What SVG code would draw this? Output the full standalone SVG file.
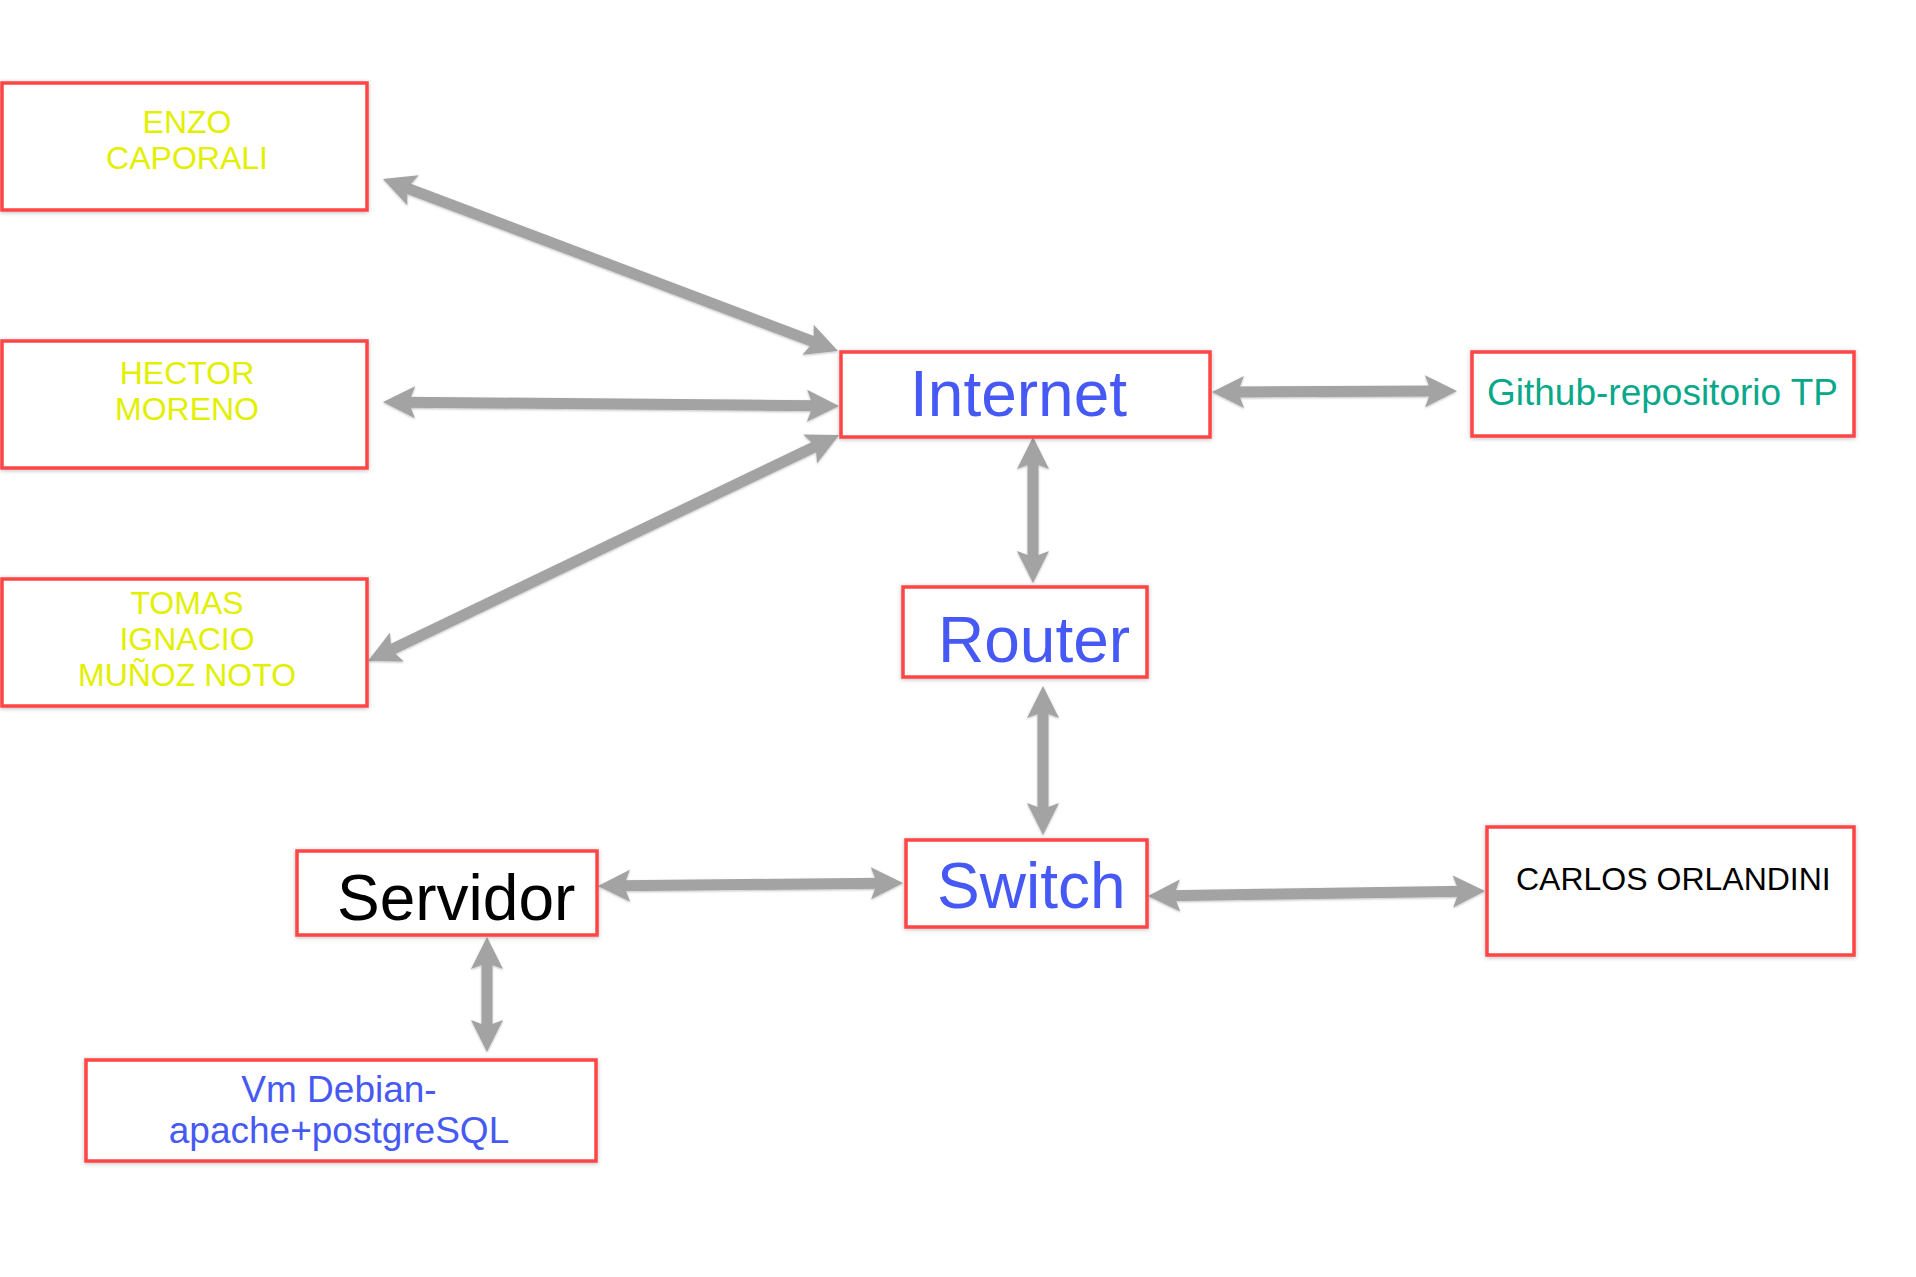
<svg xmlns="http://www.w3.org/2000/svg" width="1916" height="1277" viewBox="0 0 1916 1277">
<style>
.box{fill:#ffffff;stroke:#ff4444;stroke-width:3.5;filter:url(#sh)}
.t{font-family:"Liberation Sans",Arial,sans-serif}
.y{fill:#e2f000;font-size:32px;text-anchor:middle}
.big{font-size:64px}
.blue{fill:#4659f5}
.green{fill:#0aa88a}
.blk{fill:#000000}
.conn{filter:url(#ash)}
.conn line{stroke:#a3a3a3;stroke-width:11;marker-start:url(#ah);marker-end:url(#ah)}
</style>
<defs>
<filter id="sh" x="-10%" y="-20%" width="120%" height="140%">
<feDropShadow dx="0" dy="1" stdDeviation="2" flood-color="#000" flood-opacity="0.25"/>
</filter>
<filter id="ash" filterUnits="userSpaceOnUse" x="0" y="0" width="1916" height="1277">
<feDropShadow dx="0" dy="1" stdDeviation="1.2" flood-color="#000" flood-opacity="0.25"/>
</filter>
<marker id="ah" markerUnits="userSpaceOnUse" viewBox="-14 -18 38 36" refX="0" refY="0" markerWidth="38" markerHeight="36" orient="auto-start-reverse">
<path d="M-12,-16 L20,0 L-12,16 L-6,0 Z" fill="#a3a3a3"/>
</marker>
</defs>
<rect width="1916" height="1277" fill="#ffffff"/>
<g id="connectors" class="conn">
<line x1="401.7" y1="186.1" x2="819.3" y2="343.9"/>
<line x1="403" y1="402.2" x2="819" y2="405.8"/>
<line x1="386" y1="652.3" x2="821" y2="443.7"/>
<line x1="1232" y1="392" x2="1437" y2="391.1"/>
<line x1="1033" y1="457" x2="1033" y2="563"/>
<line x1="1043" y1="706" x2="1043" y2="815"/>
<line x1="618" y1="885.8" x2="883" y2="883.2"/>
<line x1="1168" y1="895.7" x2="1465" y2="891.3"/>
<line x1="487" y1="957" x2="487" y2="1032"/>
</g>
<g id="enzo">
<rect class="box" x="2" y="83" width="365" height="127"/>
<text class="t y" x="187" y="133">ENZO</text>
<text class="t y" x="187" y="169">CAPORALI</text>
</g>
<g id="hector">
<rect class="box" x="2" y="341" width="365" height="127"/>
<text class="t y" x="187" y="384">HECTOR</text>
<text class="t y" x="187" y="420">MORENO</text>
</g>
<g id="tomas">
<rect class="box" x="2" y="579" width="365" height="127"/>
<text class="t y" x="187" y="614">TOMAS</text>
<text class="t y" x="187" y="650">IGNACIO</text>
<text class="t y" x="187" y="686">MUÑOZ NOTO</text>
</g>
<g id="internet">
<rect class="box" x="841" y="352" width="369" height="85"/>
<text class="t big blue" x="910" y="416">Internet</text>
</g>
<g id="github">
<rect class="box" x="1472" y="352" width="382" height="84"/>
<text class="t green" x="1487" y="405" font-size="37">Github-repositorio TP</text>
</g>
<g id="router">
<rect class="box" x="903" y="587" width="244" height="90"/>
<text class="t big blue" x="938" y="662">Router</text>
</g>
<g id="switch">
<rect class="box" x="906" y="840" width="241" height="87"/>
<text class="t big blue" x="937" y="908">Switch</text>
</g>
<g id="servidor">
<rect class="box" x="297" y="851" width="300" height="84"/>
<text class="t big blk" x="337" y="920">Servidor</text>
</g>
<g id="carlos">
<rect class="box" x="1487" y="827" width="367" height="128"/>
<text class="t blk" x="1516" y="890" font-size="32">CARLOS ORLANDINI</text>
</g>
<g id="vm">
<rect class="box" x="86" y="1060" width="510" height="101"/>
<text class="t blue" x="339" y="1102" font-size="37" text-anchor="middle">Vm Debian-</text>
<text class="t blue" x="339" y="1143" font-size="37" text-anchor="middle">apache+postgreSQL</text>
</g>
</svg>
